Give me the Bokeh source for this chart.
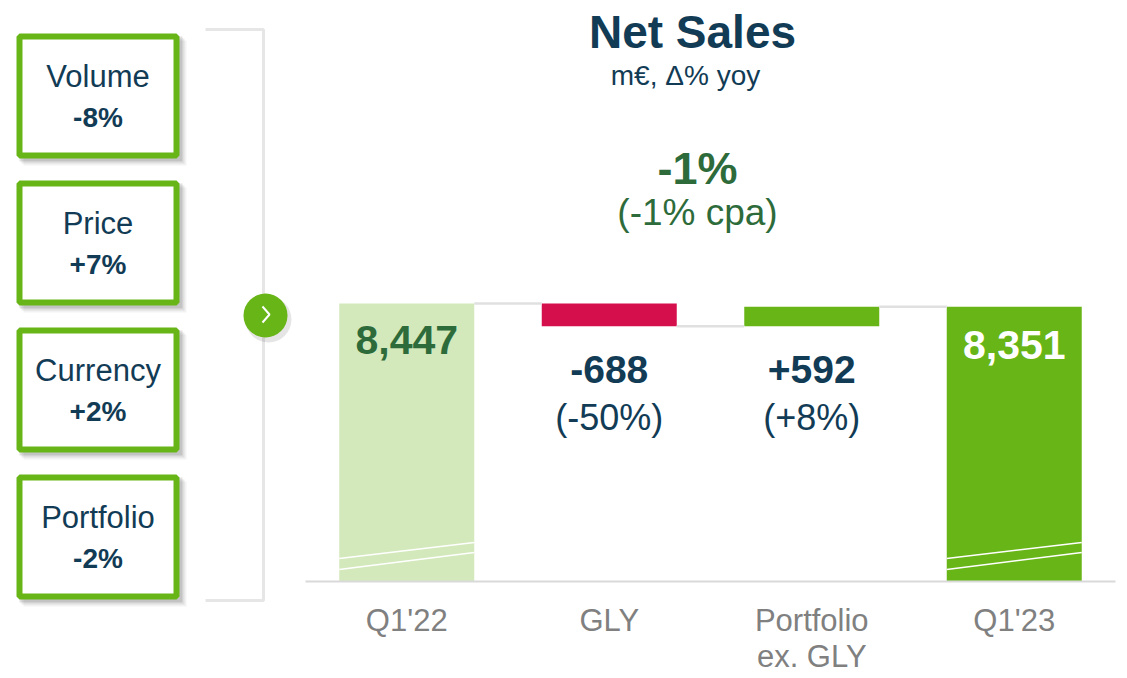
from bokeh.plotting import figure
from bokeh.models import Range1d
from bokeh.embed import file_html
from bokeh.resources import INLINE
from bokeh.core.properties import value
import numpy as np

# ---------------- data ----------------
categories = ["Q1'22", "GLY", "Portfolio\nex. GLY", "Q1'23"]
start_value = 8447
deltas = [-688, 592]
end_value = 8351
delta_labels = ["-688", "+592"]
delta_pcts = ["(-50%)", "(+8%)"]
drivers = ["Volume", "Price", "Currency", "Portfolio"]
driver_changes = ["-8%", "+7%", "+2%", "-2%"]
title_text = "Net Sales"
subtitle_text = "m€, Δ% yoy"
total_change = "-1%"
total_cpa = "(-1% cpa)"

# ---------------- style ----------------
W, H = 1127, 678
FONT = value("Liberation Sans")
NAVY = "#123b55"
DKGREEN = "#2e6b3b"
GREEN = "#68b517"
LIGHTGREEN = "#d3e9bc"
RED = "#d40f4c"
GREY_TXT = "#808080"
GREY_LINE = "#e0e0e0"
BL = 0.37  # baseline correction factor (fraction of font size)


def txt(x, y, text, size, color, bold=False, **kw):
    """Place text so that its alphabetic baseline sits at y (pixel coords)."""
    ys = [yy - BL * size for yy in y]
    p.text(x=x, y=ys, text=text, text_font=FONT, text_font_size=f"{size}px",
           text_font_style="bold" if bold else "normal", text_color=color,
           text_align="center", text_baseline="alphabetic", **kw)


p = figure(width=W, height=H, x_range=Range1d(0, W), y_range=Range1d(H, 0),
           output_backend="svg", toolbar_location=None, min_border=0,
           x_axis_type=None, y_axis_type=None)
p.grid.visible = False
p.outline_line_color = None
p.background_fill_color = "white"
p.border_fill_color = "white"

# extra ranges for the waterfall: categories along x, values along y
frame_left = 305.0
cat_px = 202.5
p.extra_x_ranges = {"cat": Range1d(-frame_left / cat_px, (W - frame_left) / cat_px)}
base_y = 581.0
top_y = 303.0
k = start_value / (base_y - top_y)
p.extra_y_ranges = {"val": Range1d(-(H - base_y) * k, base_y * k)}

# ---------------- waterfall ----------------
n = len(categories)
xs = np.arange(n) + 0.5
bw = 135 / cat_px
levels = [start_value]
for d in deltas:
    levels.append(levels[-1] + d)
bottoms = [0] + [min(levels[i], levels[i + 1]) for i in range(len(deltas))] + [0]
tops = [start_value] + [max(levels[i], levels[i + 1]) for i in range(len(deltas))] + [end_value]
colors = [LIGHTGREEN] + [RED if d < 0 else GREEN for d in deltas] + [GREEN]

p.vbar(x=xs, width=bw, bottom=bottoms, top=tops, fill_color=colors, line_color=None,
       x_range_name="cat", y_range_name="val")

# connectors
conn_levels = [start_value] + [levels[i + 1] for i in range(len(deltas))]
p.segment(x0=xs[:-1] + bw / 2, x1=xs[1:] - bw / 2, y0=conn_levels, y1=conn_levels,
          line_color=GREY_LINE, line_width=2.5, x_range_name="cat", y_range_name="val")

# baseline
p.segment(x0=[0], x1=[n], y0=[0], y1=[0], line_color="#d9d9d9", line_width=2,
          x_range_name="cat", y_range_name="val")

# axis-break marks on total bars
for i in [0, n - 1]:
    xl = frame_left + (xs[i] - bw / 2) * cat_px
    xr = frame_left + (xs[i] + bw / 2) * cat_px
    p.segment(x0=[xl, xl], x1=[xr, xr], y0=[558, 569], y1=[542, 552],
              line_color="white", line_width=1.6)

# value labels
txt([xs[0]], [355], [f"{start_value:,}"], 41, DKGREEN, bold=True, x_range_name="cat")
txt([xs[-1]], [360], [f"{end_value:,}"], 41, "white", bold=True, x_range_name="cat")
txt(list(xs[1:-1]), [383] * len(deltas), delta_labels, 39, NAVY, bold=True, x_range_name="cat")
txt(list(xs[1:-1]), [430] * len(deltas), delta_pcts, 36, NAVY, x_range_name="cat")

# category labels
for i, c in enumerate(categories):
    for j, line in enumerate(c.split("\n")):
        txt([xs[i]], [631 + 36 * j], [line], 31, GREY_TXT, x_range_name="cat")

# ---------------- titles ----------------
txt([692], [49], [title_text], 46, NAVY, bold=True)
txt([685], [85], [subtitle_text], 28, NAVY)
txt([697], [185], [total_change], 45, DKGREEN, bold=True)
txt([697], [226], [total_cpa], 37, DKGREEN)

# ---------------- driver boxes ----------------
box_top0, box_step, box_h = 33, 147, 125
bl, br = 16, 179
tops_b = [box_top0 + i * box_step for i in range(len(drivers))]
bots_b = [t + box_h for t in tops_b]
# shadows
for off, a in [(7, 0.05), (5, 0.08), (3, 0.12)]:
    p.quad(left=[bl + off] * 4, right=[br + off] * 4, top=[t + off for t in tops_b],
           bottom=[b + off for b in bots_b], fill_color="black", fill_alpha=a, line_color=None)
p.quad(left=[bl + 3] * 4, right=[br - 3] * 4, top=[t + 3 for t in tops_b],
       bottom=[b - 3 for b in bots_b], fill_color="white", line_color=GREEN, line_width=6)
cx_b = (bl + br) / 2
txt([cx_b] * 4, [t + 54 for t in tops_b], drivers, 31, NAVY)
txt([cx_b] * 4, [t + 94 for t in tops_b], driver_changes, 28, NAVY, bold=True)

# bracket
p.multi_line(xs=[[205, 263, 263, 205]], ys=[[29, 29, 600, 600]], line_color="#e6e6e6", line_width=3)

# circle with chevron
p.circle(x=[268], y=[319], radius=23, fill_color="black", fill_alpha=0.10, line_color=None)
p.circle(x=[265], y=[315], radius=22, fill_color=GREEN, line_color=None)
p.line(x=[262, 269, 262], y=[306, 314, 322], line_color="white", line_width=2)

open("out.html", "w").write(file_html(p, INLINE))
